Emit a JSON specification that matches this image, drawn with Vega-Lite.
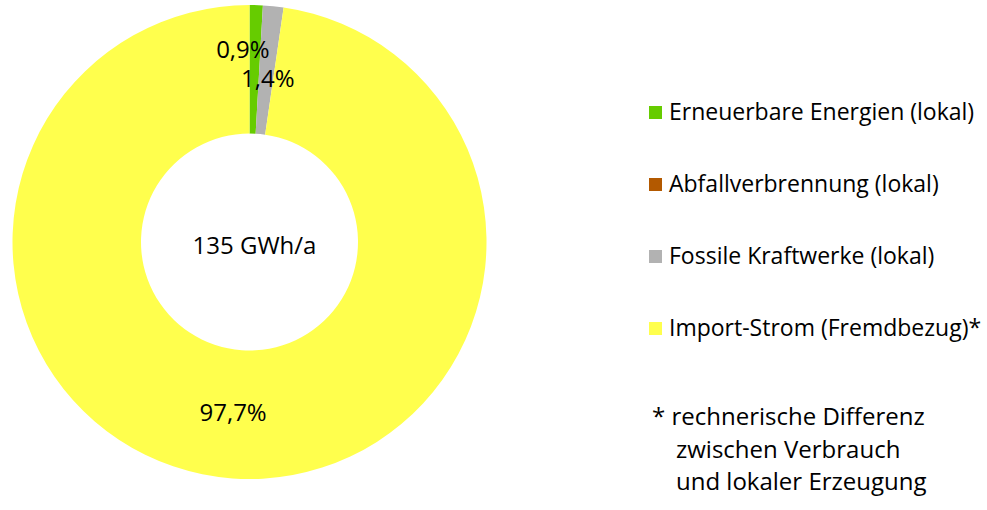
{
  "$schema": "https://vega.github.io/schema/vega-lite/v6.json",
  "padding": 0,
  "spacing": 0,
  "background": "white",
  "config": {"view": {"stroke": null}},
  "datasets": {
    "anteile": [
      {"kategorie": "Erneuerbare Energien (lokal)", "anteil": 0.9, "nr": 1, "label": "0,9%"},
      {"kategorie": "Abfallverbrennung (lokal)", "anteil": 0.0, "nr": 2, "label": ""},
      {"kategorie": "Fossile Kraftwerke (lokal)", "anteil": 1.4, "nr": 3, "label": "1,4%"},
      {"kategorie": "Import-Strom (Fremdbezug)*", "anteil": 97.7, "nr": 4, "label": "97,7%"}
    ],
    "fussnote": [
      {"zeile": 1, "einzug": "a", "text": "* rechnerische Differenz"},
      {"zeile": 2, "einzug": "b", "text": "zwischen Verbrauch"},
      {"zeile": 3, "einzug": "b", "text": "und lokaler Erzeugung"}
    ]
  },
  "hconcat": [
    {
      "width": 499,
      "height": 484,
      "data": {"name": "anteile"},
      "layer": [
        {
          "mark": {"type": "arc", "innerRadius": 108.5, "outerRadius": 237},
          "encoding": {
            "theta": {"field": "anteil", "type": "quantitative", "stack": true},
            "order": {"field": "nr", "type": "quantitative"},
            "color": {
              "field": "kategorie",
              "type": "nominal",
              "sort": ["Erneuerbare Energien (lokal)", "Abfallverbrennung (lokal)", "Fossile Kraftwerke (lokal)", "Import-Strom (Fremdbezug)*"],
              "scale": {
                "domain": ["Erneuerbare Energien (lokal)", "Abfallverbrennung (lokal)", "Fossile Kraftwerke (lokal)", "Import-Strom (Fremdbezug)*"],
                "range": ["#66CC00", "#B35900", "#B2B2B2", "#FFFF4D"]
              },
              "legend": {
                "title": null,
                "orient": "none",
                "legendX": 644,
                "legendY": 101,
                "symbolType": "square",
                "symbolSize": 169,
                "symbolStrokeWidth": 0,
                "symbolOpacity": 1,
                "labelFont": "Open Sans",
                "labelFontSize": 23,
                "labelColor": "#000000",
                "labelOffset": 2,
                "labelLimit": 500,
                "rowPadding": 48
              }
            }
          }
        },
        {
          "mark": {"type": "text", "radius": 191, "dx": -12, "font": "Open Sans", "fontSize": 24, "color": "#000000"},
          "encoding": {
            "theta": {"field": "anteil", "type": "quantitative", "stack": true},
            "order": {"field": "nr", "type": "quantitative"},
            "text": {"condition": {"test": "datum.nr == 1", "field": "label"}, "value": ""}
          }
        },
        {
          "mark": {"type": "text", "radius": 163, "dx": 2, "font": "Open Sans", "fontSize": 24, "color": "#000000"},
          "encoding": {
            "theta": {"field": "anteil", "type": "quantitative", "stack": true},
            "order": {"field": "nr", "type": "quantitative"},
            "text": {"condition": {"test": "datum.nr == 3", "field": "label"}, "value": ""}
          }
        },
        {
          "mark": {"type": "text", "radius": 172, "dx": -4, "font": "Open Sans", "fontSize": 24, "color": "#000000"},
          "encoding": {
            "theta": {"field": "anteil", "type": "quantitative", "stack": true},
            "order": {"field": "nr", "type": "quantitative"},
            "text": {"condition": {"test": "datum.nr == 4", "field": "label"}, "value": ""}
          }
        },
        {
          "data": {"values": [{"mitte": "135 GWh/a"}]},
          "mark": {"type": "text", "dx": 5, "dy": 5, "font": "Open Sans", "fontSize": 24, "color": "#000000"},
          "encoding": {
            "text": {"field": "mitte", "type": "nominal"}
          }
        }
      ]
    },
    {
      "width": 488,
      "height": 510,
      "data": {"name": "fussnote"},
      "mark": {"type": "text", "align": "left", "baseline": "alphabetic", "font": "Open Sans", "fontSize": 24, "color": "#000000"},
      "encoding": {
        "x": {"field": "einzug", "type": "nominal", "scale": {"type": "point", "padding": 0, "domain": ["a", "b"], "range": [153, 177]}, "axis": null},
        "y": {"field": "zeile", "type": "ordinal", "scale": {"type": "point", "padding": 0, "domain": [1, 2, 3], "range": [425, 490]}, "axis": null},
        "text": {"field": "text", "type": "nominal"}
      }
    }
  ]
}
